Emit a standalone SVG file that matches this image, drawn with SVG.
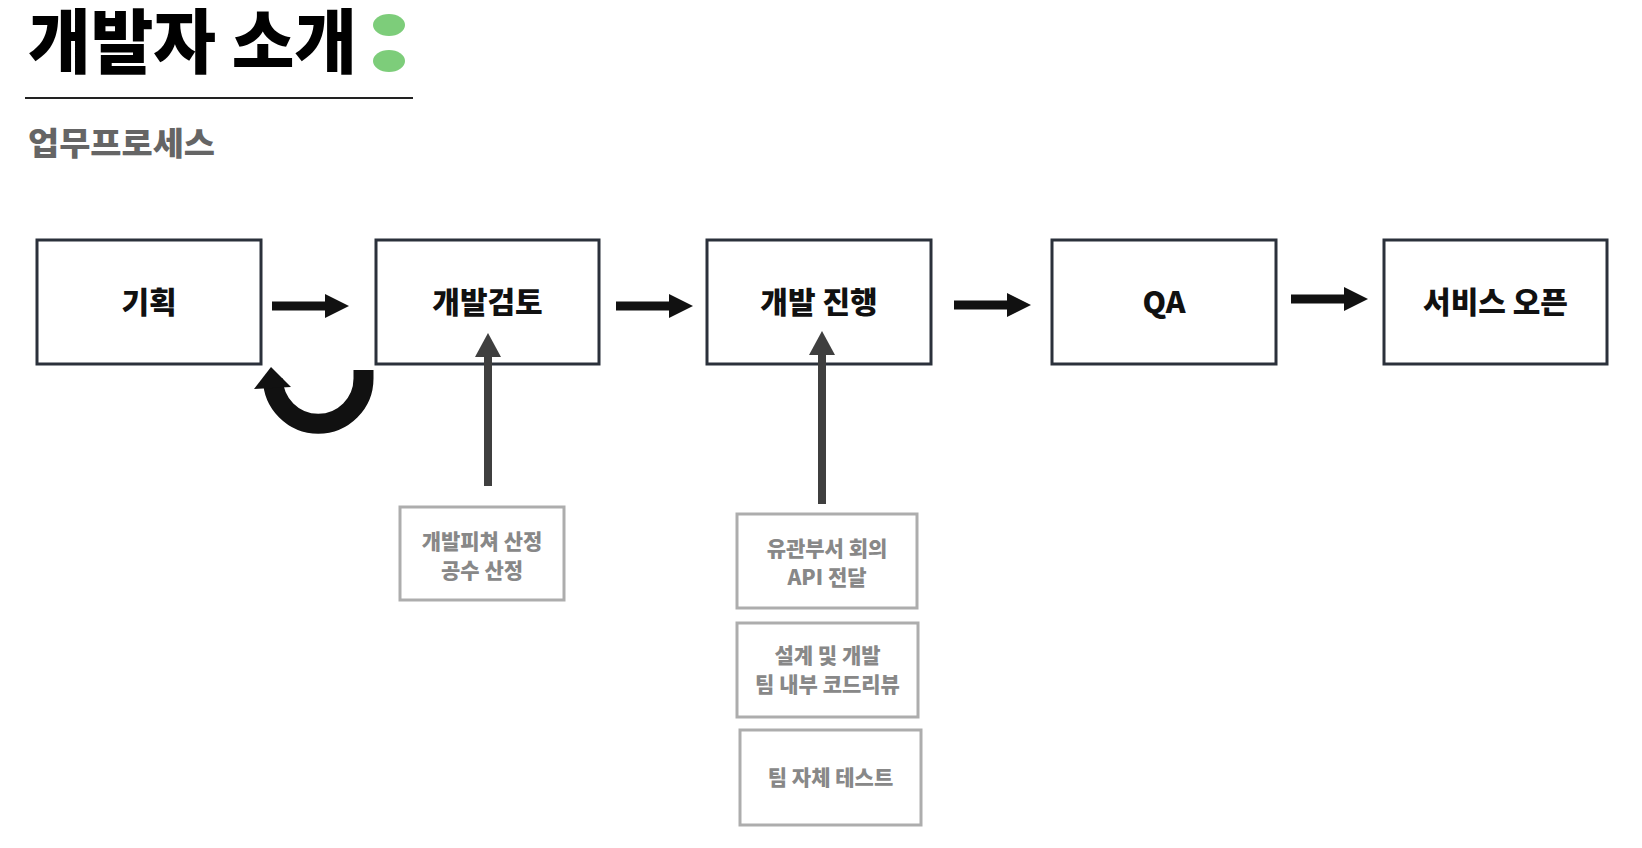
<svg xmlns="http://www.w3.org/2000/svg" width="1642" height="848" viewBox="0 0 1642 848">
<style>
.main{fill:#fff;stroke:#2b313b;stroke-width:3}
.sub{fill:#fff;stroke:#adadad;stroke-width:3}
.mt{font-family:"Noto Sans CJK KR","Noto Sans",sans-serif;font-weight:900;font-size:30px;fill:#111;text-anchor:middle;dominant-baseline:central}
.st{font-family:"Noto Sans CJK KR","Noto Sans",sans-serif;font-weight:900;font-size:21px;fill:#888;text-anchor:middle;dominant-baseline:central}
.ha{stroke:#111;stroke-width:9;fill:none;marker-end:url(#hk)}
.va{stroke:#3f3f3f;stroke-width:8;fill:none;marker-end:url(#hg)}
</style>
<defs>
<marker id="hk" markerUnits="userSpaceOnUse" markerWidth="24" markerHeight="24" refX="0" refY="12" orient="auto" overflow="visible"><path d="M0,0 L24,12 L0,24 Z" fill="#111"/></marker>
<marker id="hg" markerUnits="userSpaceOnUse" markerWidth="24" markerHeight="26" refX="0" refY="13" orient="auto" overflow="visible"><path d="M0,0 L24,13 L0,26 Z" fill="#3f3f3f"/></marker>
</defs>
<rect width="1642" height="848" fill="#fff"/>
<g id="header">
<text x="28" y="68" font-family="'Noto Sans CJK KR',sans-serif" font-weight="900" font-size="70" textLength="329" lengthAdjust="spacingAndGlyphs" fill="#000">개발자 소개</text>
<ellipse cx="389" cy="25" rx="16" ry="11" fill="#7dcd7a"/>
<ellipse cx="389" cy="61" rx="16" ry="11" fill="#7dcd7a"/>
<line x1="25" y1="98" x2="413" y2="98" stroke="#222" stroke-width="2"/>
<text x="28" y="141" font-family="'Noto Sans CJK KR',sans-serif" font-weight="900" font-size="32" textLength="187" lengthAdjust="spacingAndGlyphs" fill="#656565" dominant-baseline="central">업무프로세스</text>
</g>
<g id="n-plan"><rect class="main" x="37" y="240" width="224" height="124"/><text class="mt" x="149" y="300">기획</text></g>
<g id="n-review"><rect class="main" x="376" y="240" width="223" height="124"/><text class="mt" x="487.5" y="300">개발검토</text></g>
<g id="n-dev"><rect class="main" x="707" y="240" width="224" height="124"/><text class="mt" x="819" y="300">개발 진행</text></g>
<g id="n-qa"><rect class="main" x="1052" y="240" width="224" height="124"/><text class="mt" x="1164" y="300">QA</text></g>
<g id="n-open"><rect class="main" x="1384" y="240" width="223" height="124"/><text class="mt" x="1495.5" y="300">서비스 오픈</text></g>
<g id="s-review"><rect class="sub" x="400" y="507" width="164" height="93"/><text class="st" x="482" y="540">개발피쳐 산정</text><text class="st" x="482" y="569">공수 산정</text></g>
<g id="s-dev1"><rect class="sub" x="737" y="514" width="180" height="94"/><text class="st" x="827" y="547">유관부서 회의</text><text class="st" x="827" y="576">API 전달</text></g>
<g id="s-dev2"><rect class="sub" x="737" y="623" width="181" height="94"/><text class="st" x="827.5" y="654">설계 및 개발</text><text class="st" x="827.5" y="683">팀 내부 코드리뷰</text></g>
<g id="s-dev3"><rect class="sub" x="740" y="730" width="181" height="95"/><text class="st" x="830.5" y="776">팀 자체 테스트</text></g>
<g id="connectors">
<line class="ha" x1="272" y1="306" x2="325" y2="306"/>
<line class="ha" x1="616" y1="306" x2="669" y2="306"/>
<line class="ha" x1="954" y1="305" x2="1007" y2="305"/>
<line class="ha" x1="1291" y1="299" x2="1344" y2="299"/>
<line class="va" x1="488" y1="486" x2="488" y2="357"/>
<line class="va" x1="822" y1="504" x2="822" y2="355"/>
<path d="M363.5,370 V378.5 A45.25,45.25 0 0 1 273,378.5 V388" fill="none" stroke="#111" stroke-width="20"/>
<path d="M254,389 L271,367 L291,387 Z" fill="#111"/>
</g>
</svg>
